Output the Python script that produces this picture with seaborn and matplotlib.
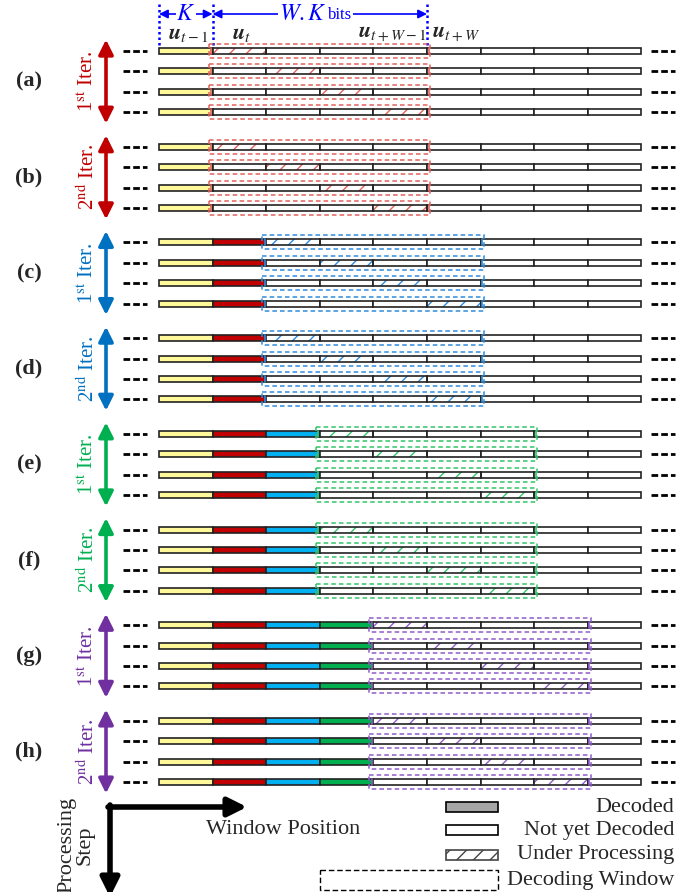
import matplotlib
matplotlib.use('Agg')
import matplotlib.pyplot as plt
import seaborn as sns
from matplotlib.patches import Rectangle

sns.set_theme(style='white')
plt.rcParams['font.family'] = ['Liberation Serif', 'DejaVu Serif']
plt.rcParams['mathtext.fontset'] = 'stix'
plt.rcParams['hatch.linewidth'] = 1.0

# ---------------- data ----------------
panel_labels = ['(a)', '(b)', '(c)', '(d)', '(e)', '(f)', '(g)', '(h)']
iter_labels = [r'1$^{\mathrm{st}}$ Iter.', r'2$^{\mathrm{nd}}$ Iter.'] * 4
window_start = [1, 1, 2, 2, 3, 3, 4, 4]
decoded_colors = ['#FFF99A', '#C00000', '#00B0F0', '#00B050']
arrow_colors = ['#C00000', '#C00000', '#0070C0', '#0070C0',
                '#00B050', '#00B050', '#7030A0', '#7030A0']
window_colors = ['#E0625C', '#E0625C', '#2F8BDB', '#2F8BDB',
                 '#33C46A', '#33C46A', '#8F5BC9', '#8F5BC9']
n_segments = 9
rows_per_panel = 4
W = 4
top_labels = [r'$\boldsymbol{u}_{t-1}$', r'$\boldsymbol{u}_{t}$',
              r'$\boldsymbol{u}_{t+W-1}$', r'$\boldsymbol{u}_{t+W}$']
top_label_seg = [0, 1, 4, 5]
legend_labels = ['Decoded', 'Not yet Decoded', 'Under Processing', 'Decoding Window']

# ---------------- layout ----------------
X0, SEG = 159.0, 53.6
Y0, ROW, PANEL = 51.0, 20.4, 95.7
BAR_H = 6.0

def sx(i):
    return X0 + i * SEG

def ry(p, r):
    return Y0 + p * PANEL + r * ROW

fig = plt.figure(figsize=(6.83, 8.92), dpi=100)
ax = fig.add_axes([0, 0, 1, 1])
ax.set_xlim(0, 683)
ax.set_ylim(892, 0)
ax.axis('off')

for p in range(len(panel_labels)):
    ws = window_start[p]
    for r in range(rows_per_panel):
        y = ry(p, r)
        for s in range(n_segments):
            fc = decoded_colors[s] if s < ws else 'white'
            if s == ws + r:
                ax.add_patch(Rectangle((sx(s), y - BAR_H / 2), SEG, BAR_H, facecolor='white',
                                       edgecolor=window_colors[p], hatch='//', lw=0, zorder=2))
                ax.add_patch(Rectangle((sx(s), y - BAR_H / 2), SEG, BAR_H, facecolor='none',
                                       edgecolor='#222222', lw=1.2, zorder=3))
            else:
                ax.add_patch(Rectangle((sx(s), y - BAR_H / 2), SEG, BAR_H, facecolor=fc,
                                       edgecolor='#222222', lw=1.2, zorder=2))
        # window boundary marks
        for xb in (sx(ws) - 1.6, sx(ws + W) + 1.6):
            ax.plot([xb, xb], [y - BAR_H / 2, y + BAR_H / 2], color=window_colors[p], lw=1.2, zorder=4)
        # decoding window dashed
        ax.add_patch(Rectangle((sx(ws) - 4, y - 7), W * SEG + 7, 14, facecolor='none',
                               edgecolor=window_colors[p], lw=1.1, ls=(0, (3, 2)), zorder=5))
        # dots left/right
        ax.plot([123, 147], [y, y], color='black', lw=2.0, ls=(0, (2.4, 1.1)),
                dash_capstyle='butt')
        ax.plot([651, 675], [y, y], color='black', lw=2.0, ls=(0, (2.4, 1.1)),
                dash_capstyle='butt')
    ymid = ry(p, 1.5)
    ax.text(29, ymid, panel_labels[p], ha='center', va='center', fontsize=16, fontweight='bold')
    ax.annotate('', xy=(106, ymid - 42), xytext=(106, ymid + 42),
                arrowprops=dict(arrowstyle='<|-|>', color=arrow_colors[p], lw=2.6,
                                mutation_scale=22, shrinkA=0, shrinkB=0))
    ax.text(88, ymid, iter_labels[p], rotation=90, ha='center', va='center',
            fontsize=15, color=arrow_colors[p])

# ---------------- top annotations ----------------
for s in (0, 1, 5):
    ax.plot([sx(s), sx(s)], [4, 46], color='#0000FF', lw=1.8, ls=(0, (1, 1.2)))
ax.annotate('', xy=(sx(0), 14), xytext=(sx(1), 14),
            arrowprops=dict(arrowstyle='<|-|>', color='#0000FF', lw=1.2, mutation_scale=13,
                            shrinkA=0, shrinkB=0))
ax.annotate('', xy=(sx(1), 14), xytext=(sx(5), 14),
            arrowprops=dict(arrowstyle='<|-|>', color='#0000FF', lw=1.2, mutation_scale=13,
                            shrinkA=0, shrinkB=0))
ax.text((sx(0) + sx(1)) / 2, 14, r'$K$', ha='center', va='center', fontsize=17, color='#0000FF',
        bbox=dict(facecolor='white', edgecolor='none', pad=0.5))
ax.text(sx(3) + 7, 15, r'$W.K$', ha='right', va='center', fontsize=17, color='#0000FF',
        bbox=dict(facecolor='white', edgecolor='none', pad=0.5))
ax.text(sx(3) + 8, 15, 'bits', ha='left', va='center', fontsize=12, color='#0000FF',
        bbox=dict(facecolor='white', edgecolor='none', pad=0.5))
for lab, s in zip(top_labels, top_label_seg):
    if s == 4:
        ax.text(sx(5) - 1, 34, lab, ha='right', va='center', fontsize=16)
    else:
        ax.text(sx(s) + SEG / 2 + 2, 34, lab, ha='center', va='center', fontsize=16)

# ---------------- bottom axes ----------------
ax.annotate('', xy=(247, 807), xytext=(108, 807),
            arrowprops=dict(arrowstyle='-|>', color='black', lw=4, mutation_scale=28,
                            shrinkA=0, shrinkB=0), annotation_clip=False)
ax.annotate('', xy=(110, 897), xytext=(110, 805),
            arrowprops=dict(arrowstyle='-|>', color='black', lw=4, mutation_scale=28,
                            shrinkA=0, shrinkB=0), annotation_clip=False)
ax.text(283, 829, 'Window Position', ha='center', va='center', fontsize=16)
ax.text(76, 845, 'Processing\nStep', ha='center', va='center', rotation=90, fontsize=16,
        linespacing=1.0)

# ---------------- legend ----------------
leg_y = [807, 830, 855, 880]
ax.add_patch(Rectangle((446, leg_y[0] - 5), 52, 10, facecolor='#A6A6A6', edgecolor='black', lw=1.2))
ax.add_patch(Rectangle((446, leg_y[1] - 5), 52, 10, facecolor='white', edgecolor='black', lw=1.2))
ax.add_patch(Rectangle((446, leg_y[2] - 5), 52, 10, facecolor='white', edgecolor='#444444',
                       hatch='//', lw=1.2))
ax.add_patch(Rectangle((320, leg_y[3] - 10), 178, 20, facecolor='none', edgecolor='black',
                       lw=1.0, ls=(0, (4, 2))))
for lab, y in zip(legend_labels, leg_y):
    ax.text(674, y, lab, ha='right', va='center', fontsize=16)

fig.savefig('out.png', dpi=100)
